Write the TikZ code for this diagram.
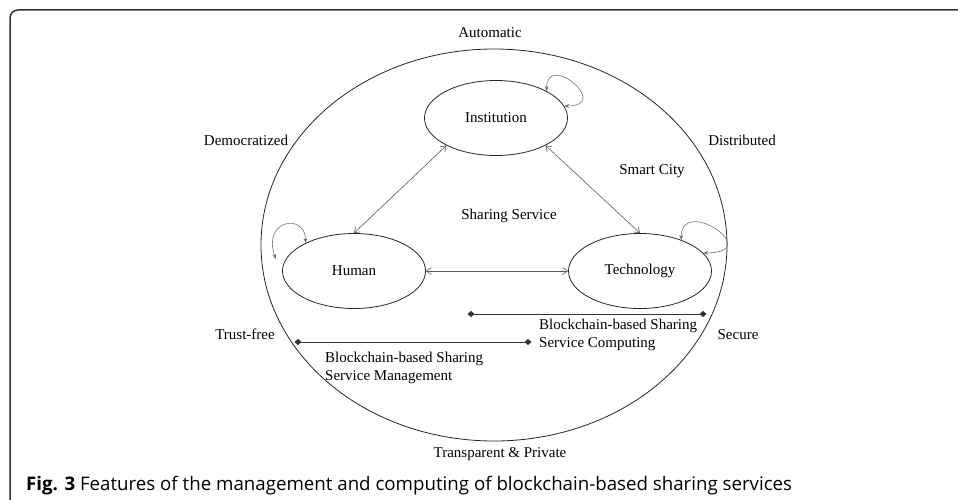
\documentclass[tikz,border=0pt]{standalone}
\usepackage{fontspec}
\setmainfont{Liberation Serif}
\newfontfamily\capfont{Open Sans}
\usepackage{tikz}
\usetikzlibrary{shapes.geometric,arrows.meta}

\tikzset{
  actor/.style={draw=black!85, line width=0.8pt, ellipse, minimum width=143pt,
    minimum height=75pt, inner sep=0pt, font=\fontsize{15}{18}\selectfont},
  feature/.style={anchor=base, inner sep=0pt, font=\fontsize{15}{18}\selectfont},
  chainlabel/.style={anchor=base west, align=left, inner sep=0pt, font=\fontsize{15}{18}\selectfont},
  link/.style={draw=black!65, line width=0.6pt,
    {Straight Barb[length=5pt,width=7pt]}-{Straight Barb[length=5pt,width=7pt]}},
  selfloop/.style={draw=black!55, line width=0.6pt,
    {Stealth[length=5pt,width=4pt]}-{Stealth[length=5pt,width=4pt]}},
  chainline/.style={draw=black!80, line width=0.9pt,
    {Diamond[length=7pt,width=6pt]}-{Diamond[length=7pt,width=6pt]}},
}

\begin{document}
\begin{tikzpicture}[x=1pt,y=-1pt]
        \useasboundingbox (0,0) rectangle (958,500);
        % frame
        \draw[black!80, line width=1.5pt, rounded corners=8pt] (975,10) -- (10,10) -- (10,515);
        % outer ring
        \draw[black!85, line width=0.8pt] (494,245) ellipse [x radius=233pt, y radius=196pt];

        % actors
        \node[actor] (inst) at (496,118) {Institution};
        \node[actor] (human) at (354,271) {Human};
        \node[actor] (tech) at (640,271) {Technology};

        \draw[link] (inst.-151) -- (human.north);
        \draw[link] (inst.-29) -- (tech.north);
        \draw[link] (human.east) -- (tech.west);

        % self loops
        \draw[selfloop] (inst.28) .. controls +(0,-40) and +(48,0) .. (inst.10);
        \draw[selfloop] (human.150) .. controls +(0,-30) and +(-14,-40) .. ([xshift=-10pt]human.170);
        \draw[selfloop] (tech.37) .. controls +(0,-45) and +(63,0) .. (tech.16);

        % features
        \node[feature] (auto) at (490,38) {Automatic};
        \node[feature] (demo) at (246,146) {Democratized};
        \node[feature] (distr) at (742,146) {Distributed};
        \node[feature] (city) at (652,174) {Smart City};
        \node[feature] (share) at (509,219) {Sharing Service};
        \node[feature] (trust) at (245,339) {Trust-free};
        \node[feature] (secure) at (738,339) {Secure};
        \node[feature] (transp) at (500,457) {Transparent \& Private};

        % blockchain lines
        \coordinate (comp w) at (467.5,314);
        \coordinate (comp e) at (706.5,314);
        \draw[chainline] (comp w) -- (comp e);
        \node[chainlabel] (comp) at (539,347) {Blockchain-based Sharing\\Service Computing};

        \coordinate (mgmt w) at (294.5,342);
        \coordinate (mgmt e) at (531.5,342);
        \draw[chainline] (mgmt w) -- (mgmt e);
        \node[chainlabel] (mgmt) at (325,380) {Blockchain-based Sharing\\Service Management};

        \node[anchor=base west, inner sep=0pt, font=\capfont\fontsize{18.7}{22}\selectfont] (caption) at (26,490)
          {\textbf{Fig. 3} Features of the management and computing of blockchain-based sharing services};
\end{tikzpicture}
\end{document}
